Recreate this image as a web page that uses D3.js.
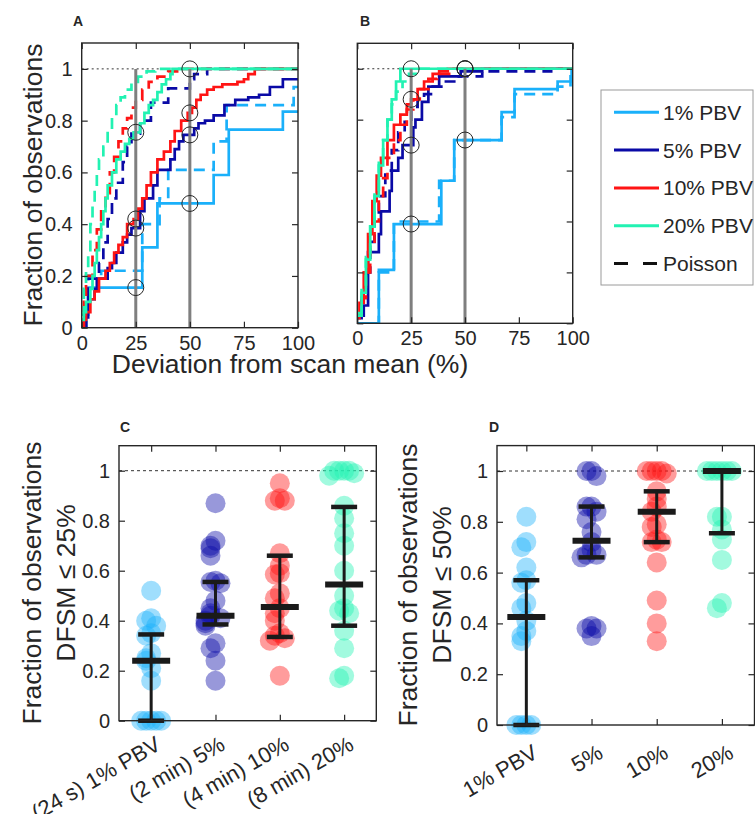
<!DOCTYPE html>
<html>
<head>
<meta charset="utf-8">
<script src="https://cdn.jsdelivr.net/npm/d3@7"></script>
<style>
body { margin: 0; background: #fff; }
text { font-family: "Liberation Sans", Arial, Helvetica, sans-serif; fill: #262626; }
</style>
</head>
<body>
<svg id="fig" width="755" height="814"></svg>
<script>
// ---------------------------------------------------------------------------
// data
var groups = ["1% PBV", "5% PBV", "10% PBV", "20% PBV"];
var colors = ["#1ab0fa", "#0a0aa6", "#ff1414", "#22f2b2"];

var cdfTicksX = [0, 25, 50, 75, 100];
var fracTicks = [0, 0.2, 0.4, 0.6, 0.8, 1];

// panel A: cumulative fraction vs deviation from scan mean (%), [x, F]
var a1 = [[0,0],[2,0.05],[3,0.155],[28,0.31],[35,0.48],[61,0.59],[68,0.765],[93,0.835]];
var a1p = [[0,0],[2,0.1],[3,0.2],[9,0.22],[28,0.4],[36,0.5],[40,0.61],[61,0.72],[67,0.86],[98,0.93]];
var a5 = [[0,0],[2,0.04],[3,0.11],[6,0.15],[7,0.19],[12,0.23],[14,0.25],[16,0.29],[19,0.33],[21,0.36],[23,0.385],[27,0.45],[29,0.5],[33,0.55],[35,0.61],[41,0.65],[43,0.69],[45,0.72],[47,0.745],[52,0.77],[54,0.79],[57,0.8],[61,0.82],[66,0.86],[71,0.88],[77,0.89],[82,0.9],[87,0.93],[93,0.96]];
var a5p = [[0,0],[2,0.1],[3,0.19],[8,0.25],[10,0.33],[12,0.42],[14,0.5],[16,0.56],[19,0.64],[21,0.7],[23,0.75],[27,0.8],[32,0.87],[40,0.925],[50,0.96],[52,0.98],[58,1]];
var a10 = [[0,0],[1,0.03],[2,0.06],[4,0.11],[6,0.14],[8,0.19],[11,0.22],[13,0.25],[15,0.29],[17,0.32],[19,0.35],[21,0.4],[24,0.42],[26,0.46],[28,0.5],[30,0.55],[32,0.6],[35,0.65],[38,0.68],[41,0.72],[43,0.76],[46,0.8],[49,0.83],[51,0.85],[53,0.88],[55,0.9],[58,0.92],[61,0.93],[65,0.94],[72,0.95],[75,0.96],[77,0.98],[80,1]];
var a10p = [[0,0],[1,0.1],[2,0.2],[5,0.3],[7,0.38],[9,0.45],[11,0.52],[13,0.6],[15,0.66],[17,0.72],[19,0.77],[21,0.81],[23,0.85],[25,0.88],[28,0.92],[31,0.95],[35,0.97],[40,0.99],[45,1]];
var a20 = [[0,0.03],[1,0.06],[2,0.1],[4,0.15],[5,0.2],[6,0.25],[7,0.3],[8,0.35],[9,0.4],[10,0.45],[11,0.5],[12,0.55],[14,0.6],[16,0.65],[18,0.68],[20,0.71],[22,0.73],[24,0.755],[27,0.79],[29,0.83],[31,0.86],[33,0.88],[35,0.91],[37,0.94],[39,0.96],[41,0.98],[42,1]];
var a20p = [[0,0.05],[1,0.15],[2,0.22],[3,0.3],[4,0.4],[5,0.47],[6,0.53],[7,0.6],[8,0.65],[10,0.7],[12,0.76],[14,0.82],[16,0.86],[18,0.89],[20,0.92],[23,0.95],[26,0.97],[30,0.99],[34,1]];

// panel B
var b1 = [[0,0],[10,0.21],[17,0.39],[39,0.56],[45,0.72],[67,0.83],[73,0.92],[93,0.95],[99.5,1]];
var b1p = [[0,0],[10,0.2],[17,0.4],[38,0.56],[45,0.72],[67,0.81],[73,0.9],[93,0.93],[99,0.97]];
var b5 = [[0,0.03],[3,0.07],[5,0.28],[10,0.35],[11,0.44],[15,0.52],[16,0.6],[19,0.65],[21,0.7],[26,0.77],[27,0.8],[30,0.87],[33,0.93],[38,0.97],[48,0.99],[58,1]];
var b5p = [[0,0.02],[2,0.1],[4,0.2],[6,0.32],[8,0.42],[10,0.5],[13,0.6],[16,0.68],[19,0.75],[22,0.8],[25,0.85],[28,0.88],[31,0.9],[35,0.93],[40,0.95],[45,0.97],[58,0.99],[90,1]];
var b10 = [[0,0.02],[1,0.08],[3,0.2],[5,0.35],[7,0.48],[9,0.58],[11,0.65],[14,0.72],[17,0.78],[20,0.82],[23,0.86],[25,0.88],[28,0.92],[31,0.95],[35,0.98],[38,0.99],[42,1]];
var b10p = [[0,0.03],[2,0.1],[4,0.2],[6,0.3],[8,0.4],[10,0.5],[12,0.57],[14,0.65],[17,0.72],[20,0.78],[23,0.84],[26,0.88],[29,0.92],[33,0.96],[37,0.98],[44,1]];
var b20 = [[0,0.03],[2,0.12],[4,0.25],[6,0.38],[8,0.5],[10,0.62],[12,0.72],[14,0.8],[16,0.88],[18,0.95],[20,1]];
var b20p = [[0,0.04],[2,0.13],[4,0.26],[6,0.4],[8,0.52],[10,0.63],[12,0.72],[14,0.8],[16,0.86],[18,0.91],[21,0.95],[24,0.98],[28,1]];

// circled values at 25% and 50% deviation
var markA25 = [0.155, 0.385, 0.42, 0.755];
var markA50 = [0.48, 0.745, 0.83, 1];
var markB25 = [0.39, 0.70, 0.88, 1];
var markB50 = [0.72, 1, 1, 1];

// panel C: fraction with DFSM <= 25%
var catC = ["(24 s) 1% PBV", "(2 min) 5%", "(4 min) 10%", "(8 min) 20%"];
var c1 = [0.52,0.41,0.40,0.38,0.35,0.34,0.27,0.25,0.24,0.21,0.16,0,0,0,0,0];
var c5 = [0.87,0.72,0.70,0.69,0.66,0.56,0.555,0.55,0.48,0.45,0.43,0.42,0.41,0.40,0.39,0.38,0.31,0.29,0.24,0.16];
var c10 = [0.95,0.89,0.88,0.88,0.67,0.62,0.59,0.585,0.51,0.49,0.45,0.43,0.40,0.35,0.34,0.33,0.32,0.18];
var c20 = [1,1,1,1,0.99,0.98,0.86,0.81,0.75,0.70,0.60,0.50,0.45,0.44,0.43,0.36,0.29,0.18,0.17];
var medC = [0.24, 0.42, 0.455, 0.545];
var q1C = [0, 0.385, 0.335, 0.38];
var q3C = [0.345, 0.555, 0.66, 0.855];

// panel D: fraction with DFSM <= 50%
var catD = ["1% PBV", "5%", "10%", "20%"];
var d1 = [0.82,0.72,0.70,0.62,0.57,0.56,0.48,0.46,0.41,0.37,0.35,0.33,0,0,0,0];
var d5 = [1,1,0.98,0.86,0.86,0.84,0.81,0.76,0.72,0.69,0.67,0.67,0.66,0.39,0.38,0.38,0.35];
var d10 = [1,1,1,1,0.99,0.92,0.89,0.86,0.84,0.79,0.78,0.73,0.72,0.72,0.64,0.49,0.40,0.33];
var d20 = [1,1,1,1,1,1,0.82,0.82,0.77,0.73,0.65,0.48,0.46];
var medD = [0.425, 0.725, 0.84, 1];
var q1D = [0, 0.66, 0.72, 0.755];
var q3D = [0.57, 0.86, 0.92, 1];

// ---------------------------------------------------------------------------

var svg = d3.select("#fig");
var ink = "#262626";
var fmt = d3.format("~g");

function boxAxes(g, x, y, xt, yt, opts) {
    var x0 = x.range()[0], x1 = x.range()[1], y0 = y.range()[0], y1 = y.range()[1];
    var left = d3.axisLeft(y).tickValues(yt).tickSize(-6).tickSizeOuter(0).tickPadding(9)
        .tickFormat(opts.yLabels ? fmt : "");
    var right = d3.axisRight(y).tickValues(yt).tickSize(-6).tickSizeOuter(0).tickFormat("");
    var bottom = d3.axisBottom(x).tickValues(xt).tickSize(-6).tickSizeOuter(0).tickPadding(8)
        .tickFormat(opts.xLabels ? fmt : "");
    var top = d3.axisTop(x).tickValues(xt).tickSize(-6).tickSizeOuter(0).tickFormat("");
    g.append("g").attr("transform", `translate(${x0},0)`).call(left);
    g.append("g").attr("transform", `translate(${x1},0)`).call(right);
    g.append("g").attr("transform", `translate(0,${y0})`).call(bottom);
    g.append("g").attr("transform", `translate(0,${y1})`).call(top);
    g.selectAll(".domain").remove();
    g.selectAll(".tick line").attr("stroke", ink).attr("stroke-width", 1.2);
    g.selectAll(".tick text").attr("fill", ink).style("font-size", "20px");
    g.append("rect")
        .attr("x", x0).attr("y", y1)
        .attr("width", x1 - x0).attr("height", y0 - y1)
        .attr("fill", "none").attr("stroke", ink).attr("stroke-width", 1.4);
}

function cdfPanel(id, x, y, solids, dashes, m25, m50, showY) {
    var g = svg.append("g").attr("id", id);
    g.append("clipPath").attr("id", id + "clip").append("rect")
        .attr("x", x.range()[0]).attr("y", y.range()[1])
        .attr("width", x.range()[1] - x.range()[0]).attr("height", y.range()[0] - y.range()[1]);
    var plot = g.append("g").attr("clip-path", `url(#${id}clip)`);

    plot.append("line")
        .attr("x1", x(0)).attr("x2", x(100)).attr("y1", y(1)).attr("y2", y(1))
        .attr("stroke", "#333").attr("stroke-width", 1).attr("stroke-dasharray", "2,3");

    var line = d3.line().x(d => x(d[0])).y(d => y(d[1])).curve(d3.curveStepAfter);
    function full(pts) {
        var last = pts[pts.length - 1];
        return last[0] < 100 ? pts.concat([[100, last[1]]]) : pts;
    }
    groups.forEach(function (name, i) {
        plot.append("path").attr("d", line(full(dashes[i])))
            .attr("fill", "none").attr("stroke", colors[i]).attr("stroke-width", 2.7)
            .attr("stroke-dasharray", "11,7");
        plot.append("path").attr("d", line(full(solids[i])))
            .attr("fill", "none").attr("stroke", colors[i]).attr("stroke-width", 2.7);
    });

    [25, 50].forEach(function (v) {
        plot.append("line")
            .attr("x1", x(v)).attr("x2", x(v)).attr("y1", y(0)).attr("y2", y(1))
            .attr("stroke", "#7f7f7f").attr("stroke-width", 3);
    });
    var marks = m25.map(f => [25, f]).concat(m50.map(f => [50, f]));
    g.selectAll("circle.mark").data(marks).enter().append("circle")
        .attr("class", "mark")
        .attr("cx", d => x(d[0])).attr("cy", d => y(d[1])).attr("r", 8)
        .attr("fill", "none").attr("stroke", ink).attr("stroke-width", 1);

    boxAxes(g, x, y, cdfTicksX, fracTicks, { xLabels: true, yLabels: showY });
}

var xA = d3.scaleLinear().domain([0, 100]).range([81.7, 298]);
var yA = d3.scaleLinear().domain([0, 1.1]).range([327.7, 43]);
var xB = d3.scaleLinear().domain([0, 100]).range([357.3, 572.7]);
var yB = d3.scaleLinear().domain([0, 1.1]).range([323.3, 43.3]);

cdfPanel("pa", xA, yA, [a1, a5, a10, a20], [a1p, a5p, a10p, a20p], markA25, markA50, true);
cdfPanel("pb", xB, yB, [b1, b5, b10, b20], [b1p, b5p, b10p, b20p], markB25, markB50, false);

// legend
var leg = svg.append("g");
leg.append("rect").attr("x", 601).attr("y", 90).attr("width", 152).attr("height", 195)
    .attr("fill", "#fff").attr("stroke", "#9a9a9a").attr("stroke-width", 1);
var legItems = groups.map((n, i) => ({ name: n, color: colors[i], dash: null }))
    .concat([{ name: "Poisson", color: "#111", dash: "14,15" }]);
legItems.forEach(function (d, i) {
    var yy = 112.3 + i * 37.8;
    leg.append("line").attr("x1", 614).attr("x2", 659).attr("y1", yy).attr("y2", yy)
        .attr("stroke", d.color).attr("stroke-width", 3)
        .attr("stroke-dasharray", d.dash);
    leg.append("text").attr("x", 663).attr("y", yy + 7.5).style("font-size", "21px").text(d.name);
});

// ---------------------------------------------------------------------------

function jitter(vals) {
    var seen = [], pattern = [0, -1, 1, -2, 2, -3, 3, -4, 4];
    return vals.map(function (v) {
        var k = seen.filter(p => Math.abs(p - v) < 0.03).length;
        seen.push(v);
        return pattern[k % pattern.length] * 5;
    });
}

function dotPanel(id, x, y, sets, med, q1, q3, cats, lab) {
    var g = svg.append("g").attr("id", id);
    g.append("line")
        .attr("x1", x.range()[0]).attr("x2", x.range()[1]).attr("y1", y(1)).attr("y2", y(1))
        .attr("stroke", "#333").attr("stroke-width", 1).attr("stroke-dasharray", "3,3");
    sets.forEach(function (vals, i) {
        var off = jitter(vals);
        g.selectAll(null).data(vals).enter().append("circle")
            .attr("cx", (d, j) => x(i + 1) + off[j]).attr("cy", d => y(d)).attr("r", 10)
            .attr("fill", colors[i]).attr("fill-opacity", 0.42);
    });
    var bars = d3.range(4);
    var bar = "#1a1a1a";
    g.selectAll(null).data(bars).enter().append("line")
        .attr("x1", i => x(i + 1)).attr("x2", i => x(i + 1))
        .attr("y1", i => y(q1[i])).attr("y2", i => y(q3[i]))
        .attr("stroke", bar).attr("stroke-width", 3);
    [q1, q3].forEach(function (q) {
        g.selectAll(null).data(bars).enter().append("line")
            .attr("x1", i => x(i + 1) - 13).attr("x2", i => x(i + 1) + 13)
            .attr("y1", i => y(q[i])).attr("y2", i => y(q[i]))
            .attr("stroke", bar).attr("stroke-width", 4.5);
    });
    g.selectAll(null).data(bars).enter().append("line")
        .attr("x1", i => x(i + 1) - 19).attr("x2", i => x(i + 1) + 19)
        .attr("y1", i => y(med[i])).attr("y2", i => y(med[i]))
        .attr("stroke", bar).attr("stroke-width", 6);

    boxAxes(g, x, y, [1, 2, 3, 4], fracTicks, { xLabels: false, yLabels: true });
    var y0 = y.range()[0];
    g.selectAll("text.cat").data(cats).enter().append("text")
        .attr("class", "cat")
        .attr("transform", (d, i) => `translate(${x(i + 1) + lab[0]},${y0 + lab[1]}) rotate(-30)`)
        .attr("text-anchor", "end").style("font-size", "22px").text(d => d);
}

var xC = d3.scaleLinear().domain([0.5, 4.5]).range([119, 376.3]);
var yC = d3.scaleLinear().domain([0, 1.1]).range([720.7, 445.7]);
var xD = d3.scaleLinear().domain([0.55, 4.5]).range([497, 754.5]);
var yD = d3.scaleLinear().domain([0, 1.1]).range([725, 445.6]);

dotPanel("pc", xC, yC, [c1, c5, c10, c20], medC, q1C, q3C, catC, [11, 28]);
dotPanel("pd", xD, yD, [d1, d5, d10, d20], medD, q1D, q3D, catD, [13, 32]);

// ---------------------------------------------------------------------------
// labels

function ylab(x, y, lines) {
    lines.forEach(function (t, i) {
        svg.append("text")
            .attr("transform", `translate(${x + i * 34},${y}) rotate(-90)`)
            .attr("text-anchor", "middle").style("font-size", "26.5px").text(t);
    });
}
ylab(42, 185, ["Fraction of observations"]);
ylab(41, 583, ["Fraction of observations", "DFSM \u2264 25%"]);
ylab(417, 585, ["Fraction of observations", "DFSM \u2264 50%"]);

svg.append("text").attr("x", 290).attr("y", 373).attr("text-anchor", "middle")
    .style("font-size", "26.5px").text("Deviation from scan mean (%)");

[["A", 73, 26], ["B", 360, 26], ["C", 120, 432], ["D", 489, 432]].forEach(function (p) {
    svg.append("text").attr("x", p[1]).attr("y", p[2])
        .style("font-size", "14px").style("font-weight", "bold").attr("fill", "#000").text(p[0]);
});
</script>
</body>
</html>
